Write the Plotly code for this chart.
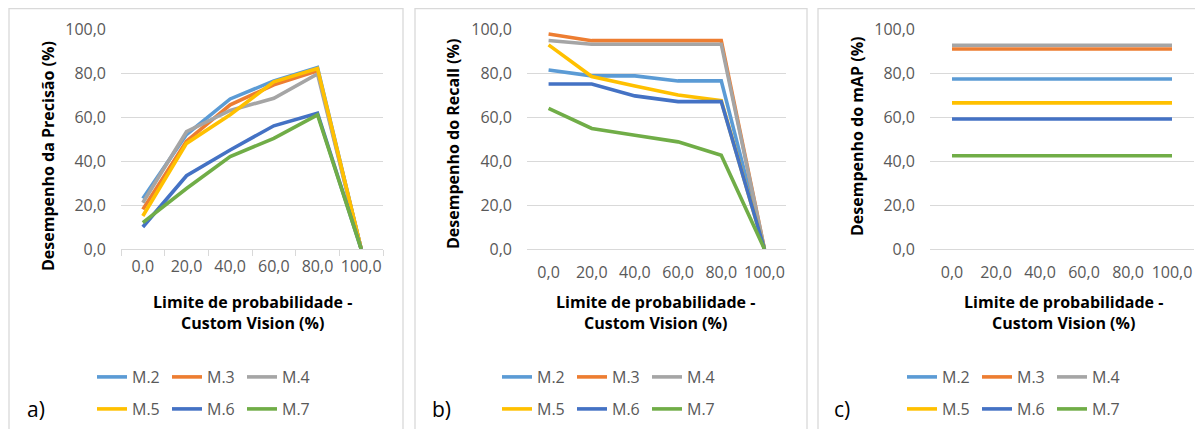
import plotly.graph_objects as go

# ---------------- data ----------------
categories = ["0,0", "20,0", "40,0", "60,0", "80,0", "100,0"]
series_names = ["M.2", "M.3", "M.4", "M.5", "M.6", "M.7"]
series_colors = ["#5B9BD5", "#ED7D31", "#A5A5A5", "#FFC000", "#4472C4", "#70AD47"]

precision_m2 = [23.0, 52.0, 68.2, 76.4, 82.5, 0.0]
precision_m3 = [18.0, 49.0, 65.5, 74.6, 81.0, 0.0]
precision_m4 = [21.0, 53.3, 63.0, 68.5, 79.6, 0.0]
precision_m5 = [15.0, 48.0, 61.0, 76.0, 82.0, 0.0]
precision_m6 = [10.0, 33.3, 45.0, 56.0, 61.7, 0.0]
precision_m7 = [12.0, 27.5, 42.0, 50.3, 61.0, 0.0]

recall_m2 = [81.4, 78.7, 78.7, 76.4, 76.4, 0.0]
recall_m3 = [97.7, 94.7, 94.7, 94.7, 94.7, 0.0]
recall_m4 = [94.8, 93.1, 93.1, 93.1, 93.1, 0.0]
recall_m5 = [92.8, 78.4, 74.1, 70.0, 67.4, 0.0]
recall_m6 = [75.0, 75.0, 69.6, 67.0, 67.0, 0.0]
recall_m7 = [63.9, 54.8, 51.7, 48.7, 42.6, 0.0]

map_m2 = [77.3] * 6
map_m3 = [90.9] * 6
map_m4 = [92.6] * 6
map_m5 = [66.4] * 6
map_m6 = [59.1] * 6
map_m7 = [42.4] * 6

y_titles = ["Desempenho da Precisão (%)", "Desempenho do Recall (%)", "Desempenho do mAP (%)"]
x_title = "Limite de probabilidade -<br>Custom Vision (%)"
panel_labels = ["a)", "b)", "c)"]

panels_data = [
    [precision_m2, precision_m3, precision_m4, precision_m5, precision_m6, precision_m7],
    [recall_m2, recall_m3, recall_m4, recall_m5, recall_m6, recall_m7],
    [map_m2, map_m3, map_m4, map_m5, map_m6, map_m7],
]

# ---------------- layout geometry (pixels in the 1203x429 view) ----------------
VW, VH = 1203, 429
OFF = 8                    # default page margin of the html body
W, H = VW - OFF, VH - OFF  # figure size so it fits exactly in the view
def fx(x):
    return (x - OFF) / W
def fy(y):
    return 1 - (y - OFF) / H

plot_x = [(121, 383), (527, 786), (930, 1194)]
plot_y = (29, 249)
frames = [(9, 403), (415, 807), (818, 1215)]
ytitle_pos = [(48, 156), (453, 144), (857, 137)]
xtitle_cx = [252, 656, 1063]
legend_x = [92, 497, 902]
label_x = [25, 430, 832]

FONT = "Open Sans"
GRAY = "#595959"
GRID = "#D9D9D9"

fig = go.Figure()

for p in range(3):
    xa = "x" if p == 0 else f"x{p+1}"
    ya = "y" if p == 0 else f"y{p+1}"
    for i, (name, color) in enumerate(zip(series_names, series_colors)):
        leg_idx = p * 2 + (0 if i < 3 else 1) + 1
        leg = "legend" if leg_idx == 1 else f"legend{leg_idx}"
        fig.add_trace(go.Scatter(
            x=categories, y=panels_data[p][i], name=name, mode="lines",
            line=dict(color=color, width=3.6), xaxis=xa, yaxis=ya,
            legend=leg, hoverinfo="skip"))

layout = dict(
    width=W, height=H, margin=dict(l=0, r=0, t=0, b=0, pad=0, autoexpand=False),
    paper_bgcolor="white", plot_bgcolor="white",
    separators=",.",
    font=dict(family=FONT, color=GRAY, size=16),
)

for p in range(3):
    sx = "" if p == 0 else str(p + 1)
    x0, x1 = plot_x[p]
    layout["xaxis" + sx] = dict(
        domain=[fx(x0), fx(x1)], anchor="y" + sx, type="category",
        categoryorder="array", categoryarray=categories,
        range=[-0.5, 5.5], showgrid=False, showline=False, zeroline=False,
        ticks="outside" if p == 0 else "", tickson="boundaries",
        ticklen=6, tickcolor=GRID, tickwidth=1, tickangle=0,
        ticklabelstandoff=6 if p == 0 else 12, automargin=False,
        tickfont=dict(family=FONT, color=GRAY, size=16),
    )
    layout["yaxis" + sx] = dict(
        domain=[fy(plot_y[1]), fy(plot_y[0])], anchor="x" + sx,
        range=[0, 100], dtick=20, tickformat=".1f",
        showgrid=True, gridcolor=GRID, gridwidth=1,
        zeroline=True, zerolinecolor=GRID, zerolinewidth=1,
        showline=False, ticks="", ticklabelstandoff=14, automargin=False,
        tickfont=dict(family=FONT, color=GRAY, size=16),
    )
    for r in range(2):
        leg_idx = p * 2 + r + 1
        key = "legend" if leg_idx == 1 else f"legend{leg_idx}"
        layout[key] = dict(
            orientation="h", x=fx(legend_x[p]), y=fy(377 if r == 0 else 409),
            xanchor="left", yanchor="middle", bgcolor="rgba(0,0,0,0)",
            font=dict(family=FONT, color=GRAY, size=16),
            itemwidth=30, entrywidth=30, entrywidthmode="pixels",
            tracegroupgap=0, traceorder="normal",
        )

shapes = []
annotations = []
for p in range(3):
    a, b = frames[p]
    shapes.append(dict(type="rect", xref="paper", yref="paper",
                       x0=fx(a), x1=fx(b), y0=fy(440), y1=fy(8.5),
                       line=dict(color=GRID, width=1.3), fillcolor="rgba(0,0,0,0)", layer="below"))
    tx, ty = ytitle_pos[p]
    annotations.append(dict(text=f"<b>{y_titles[p]}</b>", x=fx(tx), y=fy(ty), xref="paper", yref="paper",
                            textangle=-90, showarrow=False, xanchor="center", yanchor="middle",
                            font=dict(family=FONT, color="#000000", size=16)))
    annotations.append(dict(text=f"<b>{x_title}</b>", x=fx(xtitle_cx[p]), y=fy(312), xref="paper", yref="paper",
                            showarrow=False, xanchor="center", yanchor="middle", align="center",
                            font=dict(family=FONT, color="#000000", size=16)))
    annotations.append(dict(text=panel_labels[p], x=fx(label_x[p]), y=fy(409), xref="paper", yref="paper",
                            showarrow=False, xanchor="left", yanchor="middle",
                            font=dict(family=FONT, color="#000000", size=21)))

layout["shapes"] = shapes
layout["annotations"] = annotations
fig.update_layout(**layout)

fig.write_html("out.html")
